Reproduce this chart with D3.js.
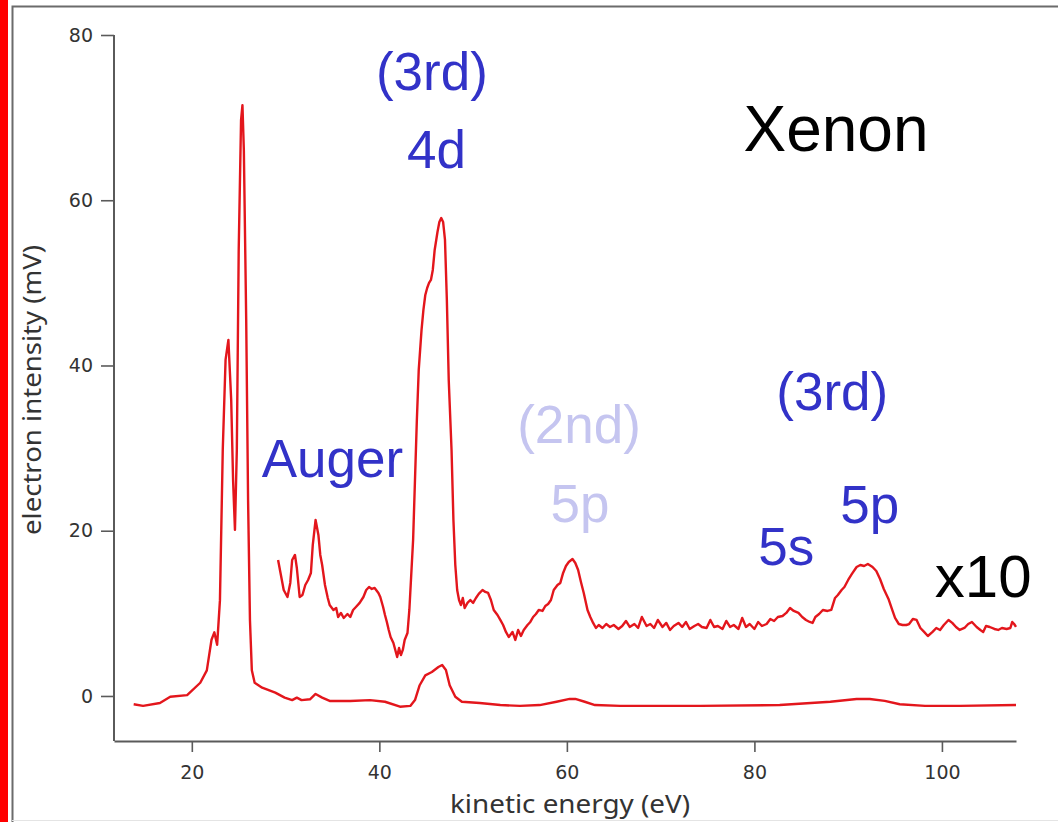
<!DOCTYPE html>
<html>
<head>
<meta charset="utf-8">
<script src="https://cdn.jsdelivr.net/npm/d3@7"></script>
<style>
  html, body { margin: 0; padding: 0; background: #fff; }
  svg { display: block; }
</style>
</head>
<body>
<svg id="chart" width="1058" height="822"></svg>
<script>
// Xenon photoelectron spectrum: full-scale trace and the x10 magnified trace
// Each entry: [kinetic energy (eV), electron intensity (mV)]
const mainTrace = [
  [13.8,-1.0],[14.8,-1.2],[16.6,-0.85],[17.7,-0.1],[19.5,0.1],[20.9,1.6],[21.6,3.1],[22.1,6.8],
  [22.4,7.7],[22.7,6.2],[23.0,11.6],[23.3,29.8],[23.6,40.7],[23.9,43.1],[24.2,35.8],[24.4,26.1],
  [24.6,20.1],[24.8,29.8],[25.0,54.0],[25.25,69.7],[25.4,71.5],[25.55,66.0],[25.8,45.5],[26.0,23.7],
  [26.2,9.2],[26.4,3.1],[26.7,1.6],[27.5,1.0],[28.9,0.4],[29.9,-0.2],[30.7,-0.5],[31.2,-0.2],
  [31.7,-0.5],[32.6,-0.4],[33.2,0.24],[33.9,-0.2],[34.7,-0.6],[36.9,-0.6],[39.0,-0.5],[40.6,-0.7],
  [42.2,-1.3],[43.3,-1.2],[43.8,-0.5],[44.3,1.3],[44.9,2.5],[45.6,2.9],[46.3,3.5],[46.7,3.75],
  [47.1,3.15],[47.5,1.3],[48.1,-0.1],[48.8,-0.7],[50.7,-0.85],[52.9,-1.1],[55.0,-1.2],[57.1,-1.1],
  [58.9,-0.7],[60.3,-0.36],[60.9,-0.36],[61.9,-0.7],[63.0,-1.1],[65.7,-1.2],[74.2,-1.2],[82.7,-1.1],
  [88.1,-0.7],[90.9,-0.36],[92.3,-0.36],[93.9,-0.6],[95.5,-1.0],[98.2,-1.2],[101.9,-1.2],[107.9,-1.1]
];

const x10Trace = [
  [29.2,16.46],[29.5,14.64],[29.8,12.83],[30.2,11.98],[30.5,13.68],[30.7,16.46],[31.0,17.07],[31.2,15.49],
  [31.5,11.98],[31.8,12.22],[32.1,13.43],[32.4,14.04],[32.7,14.89],[32.9,18.28],[33.2,21.3],[33.5,19.49],
  [33.7,17.07],[33.9,15.85],[34.2,13.43],[34.5,11.86],[34.7,11.01],[35.1,10.41],[35.4,10.65],[35.6,9.56],
  [35.9,10.05],[36.2,9.44],[36.6,9.92],[36.9,9.56],[37.2,10.41],[37.5,10.77],[37.9,11.26],[38.3,11.98],
  [38.6,12.83],[38.9,13.19],[39.2,12.95],[39.5,13.07],[39.9,12.47],[40.1,11.98],[40.4,10.77],[40.6,9.8],
  [40.8,8.96],[41.0,7.99],[41.2,7.14],[41.5,6.41],[41.7,5.57],[41.9,4.72],[42.1,5.81],[42.3,4.96],
  [42.5,5.57],[42.7,6.78],[43.0,7.62],[43.2,10.41],[43.4,14.64],[43.6,18.88],[43.8,26.14],[44.0,33.4],
  [44.2,39.46],[44.5,44.3],[44.7,46.72],[44.9,48.53],[45.1,49.38],[45.3,49.99],[45.5,50.35],[45.7,51.56],
  [45.9,53.98],[46.2,56.16],[46.4,57.37],[46.6,57.85],[46.8,57.37],[47.0,55.19],[47.2,47.93],[47.4,38.25],
  [47.7,29.77],[47.9,21.3],[48.1,15.85],[48.3,12.83],[48.5,11.62],[48.7,11.01],[48.9,11.86],[49.1,10.65],
  [49.4,11.26],[49.7,11.62],[50.0,11.26],[50.3,11.86],[50.6,12.35],[51.0,12.83],[51.3,12.59],[51.6,12.47],
  [51.9,11.62],[52.2,10.41],[52.6,9.8],[52.9,9.2],[53.2,8.59],[53.5,7.75],[53.8,7.14],[54.2,7.75],
  [54.5,6.78],[54.8,7.99],[55.1,7.26],[55.4,7.99],[55.8,8.59],[56.1,8.96],[56.4,9.56],[56.7,9.92],
  [57.0,10.41],[57.4,10.29],[57.7,10.89],[58.0,11.13],[58.3,11.62],[58.6,12.83],[59.0,13.43],[59.3,13.68],
  [59.6,14.89],[59.9,15.73],[60.2,16.22],[60.6,16.58],[60.9,16.1],[61.2,15.25],[61.5,13.8],[61.8,12.47],
  [62.2,10.41],[62.5,9.56],[62.8,8.84],[63.1,8.23],[63.4,8.59],[63.8,8.23],[64.2,8.71],[64.6,8.35],
  [65.0,8.59],[65.5,8.11],[65.9,8.47],[66.3,9.08],[66.7,8.35],[67.2,8.71],[67.6,8.23],[68.0,9.56],
  [68.5,8.47],[68.9,8.71],[69.3,8.23],[69.7,9.2],[70.2,8.35],[70.6,8.84],[71.0,7.99],[71.4,8.47],
  [71.9,8.84],[72.3,8.35],[72.7,8.96],[73.1,8.11],[73.6,8.47],[74.0,8.71],[74.4,8.35],[74.9,8.23],
  [75.3,9.2],[75.7,8.35],[76.1,8.47],[76.6,8.11],[77.0,9.08],[77.4,8.35],[77.8,8.59],[78.3,8.11],
  [78.7,9.44],[79.1,8.35],[79.5,8.71],[80.0,8.11],[80.4,8.96],[80.8,8.47],[81.3,8.71],[81.7,9.32],
  [82.1,9.08],[82.5,9.56],[83.0,9.68],[83.4,10.05],[83.8,10.65],[84.2,10.29],[84.7,10.05],[85.1,9.56],
  [85.5,9.2],[85.9,8.96],[86.2,8.84],[86.5,9.56],[86.9,9.92],[87.3,10.41],[87.8,10.29],[88.2,10.41],
  [88.6,11.86],[88.9,12.22],[89.3,12.83],[89.6,13.19],[90.0,14.04],[90.4,14.77],[90.9,15.61],[91.3,15.85],
  [91.7,15.73],[92.1,15.98],[92.6,15.61],[93.0,15.13],[93.4,14.16],[93.8,12.95],[94.3,11.74],[94.7,10.41],
  [95.0,9.44],[95.4,8.71],[95.8,8.59],[96.2,8.59],[96.5,8.71],[96.9,9.32],[97.3,9.2],[97.7,8.23],
  [98.1,7.75],[98.5,7.26],[99.0,7.75],[99.4,8.23],[99.8,7.99],[100.2,8.59],[100.7,9.2],[101.1,8.84],
  [101.5,8.35],[101.9,7.99],[102.4,8.23],[102.8,8.71],[103.2,8.96],[103.7,8.35],[104.1,7.99],[104.4,7.75],
  [104.7,8.47],[105.1,8.35],[105.6,8.11],[106.0,7.99],[106.4,8.23],[106.9,8.11],[107.3,8.23],[107.5,8.96],
  [107.7,8.71],[107.9,8.35]
];

const xTicks = [20, 40, 60, 80, 100];
const yTicks = [0, 20, 40, 60, 80];
const xDomain = [11.7, 107.9];
const yDomain = [-5.45, 80];

// Labels placed in data coordinates: [text, energy, intensity, style]
const annotations = [
  ["(3rd)", 45.6, 73.4, "blue"],
  ["4d", 46.1, 63.9, "blue"],
  ["Xenon", 88.7, 65.9, "title"],
  ["Auger", 35.0, 26.5, "blue"],
  ["(2nd)", 61.3, 30.6, "pale"],
  ["5p", 61.4, 21.1, "pale"],
  ["(3rd)", 88.3, 34.6, "blue"],
  ["5p", 92.3, 20.9, "blue"],
  ["5s", 83.4, 15.9, "blue"],
  ["x10", 104.4, 12.0, "black"]
];

const svg = d3.select("#chart");
const W = 1058, H = 822;

// page frame with red edge on the left
svg.append("rect").attr("x", 0).attr("y", 0).attr("width", 8).attr("height", H).attr("fill", "#ff0000");
svg.append("path")
  .attr("d", `M12.5,${H} V6.5 H${W}`)
  .attr("fill", "none").attr("stroke", "#6b6b6b").attr("stroke-width", 2);
svg.append("line").attr("x1", 12).attr("x2", W).attr("y1", 820.5).attr("y2", 820.5)
  .attr("stroke", "#e4e4e4").attr("stroke-width", 1);

const x = d3.scaleLinear().domain(xDomain).range([114, 1016]);
const y = d3.scaleLinear().domain(yDomain).range([741, 35]);

const axisColor = "#5a5a5a";
const tickFont = "'DejaVu Sans', sans-serif";

const gx = svg.append("g").attr("transform", `translate(0,${y(yDomain[0])})`)
  .call(d3.axisBottom(x).tickValues(xTicks).tickSize(11).tickPadding(14).tickSizeOuter(0));
const gy = svg.append("g").attr("transform", `translate(${x(xDomain[0])},0)`)
  .call(d3.axisLeft(y).tickValues(yTicks).tickSize(13).tickPadding(8).tickSizeOuter(0));

[gx, gy].forEach(g => {
  g.select(".domain").attr("stroke", axisColor).attr("stroke-width", 2);
  g.selectAll(".tick line").attr("stroke", axisColor).attr("stroke-width", 1.6);
  g.selectAll(".tick text").attr("fill", "#333").attr("font-family", tickFont).attr("font-size", 19);
});

// y axis spine extends up to the top tick
gy.select(".domain").attr("d", `M0,${y(80)}V${y(yDomain[0])}`);

svg.append("text")
  .attr("x", 570)
  .attr("y", 813)
  .attr("text-anchor", "middle")
  .attr("font-family", "'Noto Sans', sans-serif")
  .attr("font-size", 25)
  .attr("textLength", 240)
  .attr("lengthAdjust", "spacingAndGlyphs")
  .attr("fill", "#333")
  .text("kinetic energy (eV)");

svg.append("text")
  .attr("transform", `translate(41,390) rotate(-90)`)
  .attr("text-anchor", "middle")
  .attr("font-family", "'Noto Sans', sans-serif")
  .attr("font-size", 25)
  .attr("textLength", 290)
  .attr("lengthAdjust", "spacingAndGlyphs")
  .attr("fill", "#333")
  .text("electron intensity (mV)");

const line = d3.line().x(d => x(d[0])).y(d => y(d[1])).curve(d3.curveLinear);
const red = "#e3161c";

svg.append("path").datum(mainTrace).attr("d", line)
  .attr("fill", "none").attr("stroke", red).attr("stroke-width", 2.4).attr("stroke-linejoin", "round");
svg.append("path").datum(x10Trace).attr("d", line)
  .attr("fill", "none").attr("stroke", red).attr("stroke-width", 2.4).attr("stroke-linejoin", "round");

const colors = { blue: "#3232c8", pale: "#c5c5f0", black: "#000", title: "#000" };
const sizes = { blue: 53, pale: 53, black: 60, title: 64 };

svg.append("g").selectAll("text").data(annotations).join("text")
  .attr("x", d => x(d[1]))
  .attr("y", d => y(d[2]))
  .attr("text-anchor", "middle")
  .attr("font-family", "'Liberation Sans', Arial, sans-serif")
  .attr("font-size", d => sizes[d[3]])
  .attr("fill", d => colors[d[3]])
  .text(d => d[0]);
</script>
</body>
</html>
